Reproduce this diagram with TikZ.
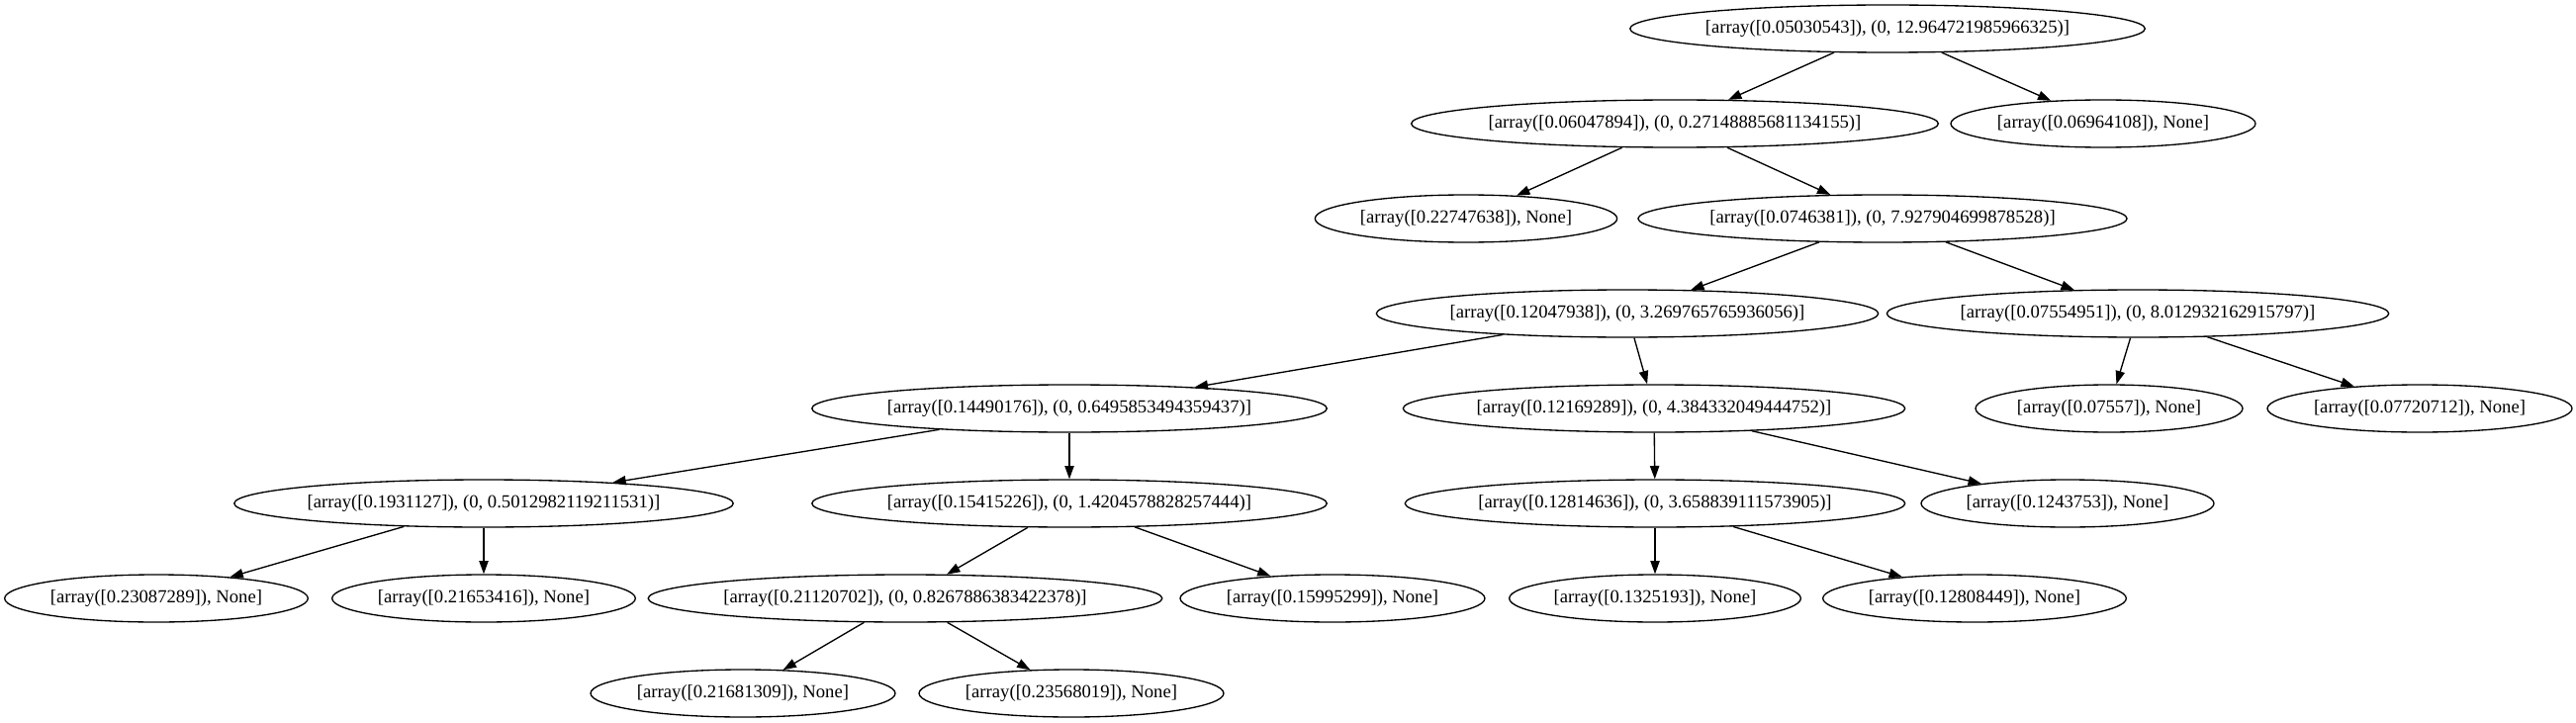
\documentclass[tikz,border=0pt]{standalone}
\usepackage{fontspec}
\setmainfont{Liberation Serif}
\usetikzlibrary{arrows.meta,shapes.geometric}
\begin{document}
\begin{tikzpicture}[x=0.75pt,y=-0.75pt,
  tn/.style={draw, ellipse, line width=1pt, inner xsep=0pt, inner ysep=0pt,
    minimum height=36pt, minimum width=#1, font=\fontsize{14}{16}\selectfont},
  arr/.style={-{Triangle[length=10pt,width=7pt]}, line width=1pt}]
\useasboundingbox (0,0) rectangle (2604,731);
% rank 0
\node[tn=379.5pt] (r)   at (1908,29)  {[array([0.05030543]), (0, 12.964721985966325)]};
% rank 1
\node[tn=386pt]   (n1)  at (1693,125) {[array([0.06047894]), (0, 0.27148885681134155)]};
\node[tn=231pt]   (n2)  at (2126,125) {[array([0.06964108]), None]};
% rank 2
\node[tn=229pt]   (n3)  at (1482,221) {[array([0.22747638]), None]};
\node[tn=359pt]   (n4)  at (1903,221) {[array([0.0746381]), (0, 7.927904699878528)]};
% rank 3
\node[tn=370pt]   (n5)  at (1645,317) {[array([0.12047938]), (0, 3.269765765936056)]};
\node[tn=370.5pt] (n6)  at (2161,317) {[array([0.07554951]), (0, 8.012932162915797)]};
% rank 4
\node[tn=378pt]   (n7)  at (1081,413) {[array([0.14490176]), (0, 0.6495853494359437)]};
\node[tn=371pt]   (n8)  at (1672,413) {[array([0.12169289]), (0, 4.384332049444752)]};
\node[tn=202.5pt] (n9)  at (2132,413) {[array([0.07557]), None]};
\node[tn=231pt]   (n10) at (2446,413) {[array([0.07720712]), None]};
% rank 5
\node[tn=370.5pt] (n11) at (489,509)  {[array([0.1931127]), (0, 0.5012982119211531)]};
\node[tn=378pt]   (n12) at (1081,509) {[array([0.15415226]), (0, 1.4204578828257444)]};
\node[tn=371pt]   (n13) at (1673,509) {[array([0.12814636]), (0, 3.658839111573905)]};
\node[tn=222pt]   (n14) at (2090,509) {[array([0.1243753]), None]};
% rank 6
\node[tn=230pt]   (n15) at (158,605)  {[array([0.23087289]), None]};
\node[tn=230pt]   (n16) at (489,605)  {[array([0.21653416]), None]};
\node[tn=379pt]   (n17) at (915,605)  {[array([0.21120702]), (0, 0.8267886383422378)]};
\node[tn=231pt]   (n18) at (1347,605) {[array([0.15995299]), None]};
\node[tn=221pt]   (n19) at (1673,605) {[array([0.1325193]), None]};
\node[tn=230pt]   (n20) at (1996,605) {[array([0.12808449]), None]};
% rank 7
\node[tn=231pt]   (n21) at (751,701)  {[array([0.21681309]), None]};
\node[tn=231pt]   (n22) at (1083,701) {[array([0.23568019]), None]};
% edges
\draw[arr] (r) -- (n1);
\draw[arr] (r) -- (n2);
\draw[arr] (n1) -- (n3);
\draw[arr] (n1) -- (n4);
\draw[arr] (n4) -- (n5);
\draw[arr] (n4) -- (n6);
\draw[arr] (n5) -- (n7);
\draw[arr] (n5) -- (n8);
\draw[arr] (n6) -- (n9);
\draw[arr] (n6) -- (n10);
\draw[arr] (n7) -- (n11);
\draw[arr] (n7) -- (n12);
\draw[arr] (n8) -- (n13);
\draw[arr] (n8) -- (n14);
\draw[arr] (n11) -- (n15);
\draw[arr] (n11) -- (n16);
\draw[arr] (n12) -- (n17);
\draw[arr] (n12) -- (n18);
\draw[arr] (n13) -- (n19);
\draw[arr] (n13) -- (n20);
\draw[arr] (n17) -- (n21);
\draw[arr] (n17) -- (n22);
\end{tikzpicture}
\end{document}
